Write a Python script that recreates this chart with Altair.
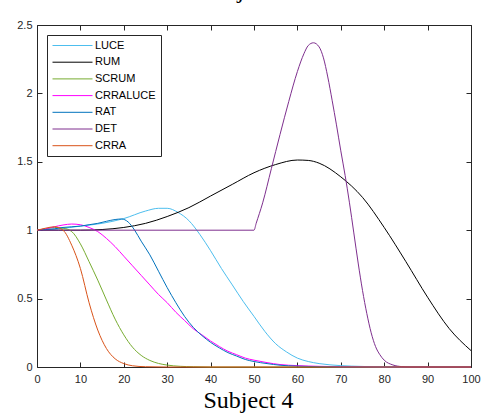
import altair as alt
import pandas as pd

series = ["LUCE", "RUM", "SCRUM", "CRRALUCE", "RAT", "DET", "CRRA"]
colors = ["#4DBEEE", "#000000", "#77AC30", "#FF00FF", "#0072BD", "#7E2F8E", "#D95319"]
x_ticks = [0, 10, 20, 30, 40, 50, 60, 70, 80, 90, 100]
y_ticks = [0, 0.5, 1, 1.5, 2, 2.5]

luce_x = [0, 5, 10, 15, 20, 25, 28, 30, 32.5, 35, 37.5, 40, 42.5, 45, 47.5, 50, 52.5, 55, 57.5, 60, 62.5, 65, 70, 75, 80, 100]
luce_y = [1, 1.01, 1.03, 1.05, 1.085, 1.14, 1.16, 1.16, 1.13, 1.07, 0.97, 0.85, 0.72, 0.6, 0.48, 0.37, 0.26, 0.17, 0.11, 0.065, 0.04, 0.025, 0.01, 0.004, 0, 0]

rum_x = [0, 5, 10, 15, 20, 25, 30, 35, 40, 45, 50, 55, 60, 62.5, 65, 70, 75, 80, 85, 90, 95, 100]
rum_y = [1, 1.0, 1.0, 1.005, 1.02, 1.05, 1.1, 1.165, 1.25, 1.335, 1.42, 1.48, 1.513, 1.51, 1.49, 1.39, 1.24, 1.02, 0.77, 0.51, 0.28, 0.12]

scrum_x = [0, 2, 4, 6, 8, 10, 12, 14, 16, 18, 20, 22, 24, 26, 28, 30, 33, 36, 40, 60, 80, 100]
scrum_y = [1, 1.01, 1.02, 1.015, 0.99, 0.9, 0.77, 0.635, 0.49, 0.35, 0.235, 0.145, 0.085, 0.048, 0.026, 0.014, 0.005, 0.002, 0, 0, 0, 0]

crraluce_x = [0, 2, 4, 6, 8, 10, 12, 14, 16, 18, 20, 22, 24, 26, 28, 30, 32, 34, 36, 38, 40, 42, 44, 46, 48, 50, 53, 56, 60, 65, 70, 80, 100]
crraluce_y = [1, 1.01, 1.025, 1.038, 1.045, 1.04, 1.02, 0.99, 0.94, 0.88, 0.81, 0.74, 0.67, 0.6, 0.53, 0.47, 0.4, 0.34, 0.28, 0.235, 0.19, 0.15, 0.115, 0.09, 0.065, 0.05, 0.032, 0.018, 0.01, 0.005, 0.002, 0, 0]

rat_x = [0, 2, 4, 6, 8, 10, 12, 14, 16, 18, 19.5, 21, 22.5, 24, 26, 28, 30, 32, 34, 36, 38, 40, 42, 44, 46, 48, 50, 53, 56, 60, 65, 70, 80, 100]
rat_y = [1, 1.005, 1.01, 1.02, 1.025, 1.03, 1.04, 1.05, 1.065, 1.078, 1.082, 1.06, 1.0, 0.92, 0.82, 0.7, 0.58, 0.47, 0.37, 0.29, 0.23, 0.18, 0.14, 0.105, 0.08, 0.055, 0.04, 0.025, 0.013, 0.006, 0.002, 0, 0, 0]

det_x = [0, 50, 50.5, 52, 54, 56, 58, 60, 61.5, 62.5, 63.7, 65, 66, 67, 68, 69, 70, 71, 72, 73, 74, 75, 76, 77, 78, 79, 80, 82, 84, 86, 100]
det_y = [1, 1, 1.05, 1.2, 1.45, 1.7, 1.94, 2.16, 2.29, 2.35, 2.37, 2.34, 2.26, 2.12, 1.95, 1.77, 1.58, 1.4, 1.2, 0.98, 0.76, 0.56, 0.39, 0.25, 0.15, 0.09, 0.05, 0.015, 0.003, 0, 0]

crra_x = [0, 2, 4, 6, 8, 10, 12, 14, 16, 18, 20, 22, 25, 30, 40, 60, 80, 100]
crra_y = [1.0, 1.015, 1.025, 1.0, 0.89, 0.72, 0.47, 0.27, 0.135, 0.06, 0.025, 0.009, 0.002, 0, 0, 0, 0, 0]

all_series = [
    ("LUCE", luce_x, luce_y), ("RUM", rum_x, rum_y), ("SCRUM", scrum_x, scrum_y),
    ("CRRALUCE", crraluce_x, crraluce_y), ("RAT", rat_x, rat_y), ("DET", det_x, det_y),
    ("CRRA", crra_x, crra_y),
]
rows = []
for name, xs, ys in all_series:
    for xv, yv in zip(xs, ys):
        rows.append({"series": name, "x": xv, "y": yv})
df = pd.DataFrame(rows)

W, H = 434, 342
AX = "#262626"
xscale = alt.Scale(domain=[0, 100], nice=False, zero=False)
yscale = alt.Scale(domain=[0, 2.5], nice=False, zero=False)

lines = alt.Chart(df).mark_line(strokeWidth=1, interpolate="monotone").encode(
    x=alt.X("x:Q", scale=xscale, axis=alt.Axis(
        values=x_ticks, ticks=False, domain=False, grid=False, labelPadding=6,
        labelFlush=False, labelFont="Liberation Sans", labelFontSize=11, labelColor=AX,
        format="d", title="Subject 4", titleFont="Liberation Serif", titleFontSize=24,
        titleFontWeight="normal", titleColor="#000000", titlePadding=4, titleX=211)),
    y=alt.Y("y:Q", scale=yscale, axis=alt.Axis(
        values=y_ticks, ticks=False, domain=False, grid=False, labelPadding=5,
        labelFlush=False, labelFont="Liberation Sans", labelFontSize=11, labelColor=AX,
        format="~g", title=None)),
    color=alt.Color("series:N", scale=alt.Scale(domain=series, range=colors),
                    legend=alt.Legend(title=None, orient="none", legendX=10, legendY=10,
                                      strokeColor=AX, fillColor="white", padding=5,
                                      labelFont="Liberation Sans", labelFontSize=11,
                                      labelColor="#000000", symbolType="M-1,0H7",
                                      symbolSize=100, symbolStrokeWidth=1, labelOffset=32,
                                      rowPadding=4.7, cornerRadius=0)),
)

tick_axis = dict(labels=False, domain=False, grid=False, ticks=True, tickSize=5,
                 tickColor=AX, tickWidth=1, title=None)

ticks_a = alt.Chart(df).mark_point(opacity=0).encode(
    x=alt.X("x:Q", scale=xscale, axis=alt.Axis(orient="top", offset=-H, values=x_ticks, **tick_axis)),
    y=alt.Y("y:Q", scale=yscale, axis=alt.Axis(orient="right", offset=-W, values=y_ticks, **tick_axis)),
)
ticks_b = alt.Chart(df).mark_point(opacity=0).encode(
    x=alt.X("x:Q", scale=xscale, axis=alt.Axis(orient="bottom", offset=-H, values=x_ticks, **tick_axis)),
    y=alt.Y("y:Q", scale=yscale, axis=alt.Axis(orient="left", offset=-W, values=y_ticks, **tick_axis)),
)

top_text = alt.Chart(alt.Data(values=[{}])).mark_text(
    font="Liberation Serif", fontSize=24, baseline="alphabetic", align="center", color="#000000"
).encode(x=alt.value(208), y=alt.value(-27), text=alt.value("Subject 4"))

chart = alt.layer(ticks_a, ticks_b, lines, top_text).resolve_axis(
    x="independent", y="independent"
).properties(
    width=W, height=H,
    padding={"left": 37, "top": 25, "right": 18, "bottom": 49},
    autosize=alt.AutoSizeParams(type="none"),
).configure_view(stroke=AX, strokeWidth=1)

chart.save("out.html", embed_options={"renderer": "svg", "actions": False})
